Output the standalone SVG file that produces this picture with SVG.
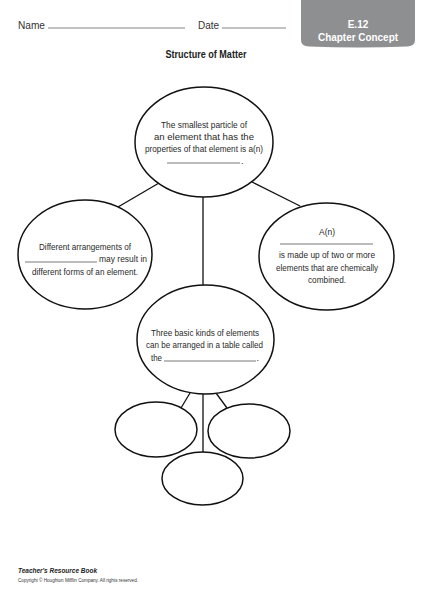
<svg xmlns="http://www.w3.org/2000/svg" width="431" height="600" viewBox="0 0 431 600">
<style>
.n{fill:#fff;stroke:#111;stroke-width:1.5}
.c line{stroke:#111;stroke-width:1.3}
.t{font-family:"Liberation Sans",Arial,sans-serif;font-size:9px;fill:#2a2a2a}
.bl{stroke:#555;stroke-width:0.8}
.h{font-family:"Liberation Sans",Arial,sans-serif;font-size:10px;fill:#333}
.hl{stroke:#666;stroke-width:0.8}
</style>
<rect width="431" height="600" fill="#fff"/>
<g id="header">
<path d="M301 0 H415 V40 Q415 46 407 46.5 Q358 48.5 309 46.5 Q301 46 301 40 Z" fill="#8e8f91"/>
<text x="358" y="28" text-anchor="middle" style="font-family:'Liberation Sans',Arial,sans-serif;font-size:10px;font-weight:bold;fill:#fff">E.12</text>
<text x="358" y="41" text-anchor="middle" textLength="80" lengthAdjust="spacingAndGlyphs" style="font-family:'Liberation Sans',Arial,sans-serif;font-size:10px;font-weight:bold;fill:#fff">Chapter Concept</text>
<text class="h" x="18" y="29" textLength="27" lengthAdjust="spacingAndGlyphs">Name</text>
<line class="hl" x1="48" y1="28" x2="185" y2="28"/>
<text class="h" x="198" y="29" textLength="21" lengthAdjust="spacingAndGlyphs">Date</text>
<line class="hl" x1="222" y1="28" x2="286" y2="28"/>
<text x="206" y="58" text-anchor="middle" textLength="81" lengthAdjust="spacingAndGlyphs" style="font-family:'Liberation Sans',Arial,sans-serif;font-size:10px;font-weight:bold;fill:#222">Structure of Matter</text>
</g>
<g id="connectors" class="c">
<line x1="118" y1="207" x2="159" y2="183"/>
<line x1="252" y1="182" x2="300" y2="206"/>
<line x1="203" y1="196" x2="203" y2="286"/>
<line x1="190" y1="393" x2="181" y2="408"/>
<line x1="203" y1="394" x2="203" y2="452"/>
<line x1="216" y1="393" x2="227" y2="408"/>
</g>
<g id="atom">
<ellipse class="n" cx="204" cy="142" rx="69" ry="55"/>
<text class="t" x="204" y="128" text-anchor="middle" textLength="86" lengthAdjust="spacingAndGlyphs">The smallest particle of</text>
<text class="t" x="204" y="140" text-anchor="middle" textLength="100" lengthAdjust="spacingAndGlyphs">an element that has the</text>
<text class="t" x="204" y="152" text-anchor="middle" textLength="118" lengthAdjust="spacingAndGlyphs">properties of that element is a(n)</text>
<line class="bl" x1="167" y1="163" x2="240" y2="163"/>
<text class="t" x="241" y="164">.</text>
</g>
<g id="allotropes">
<ellipse class="n" cx="85" cy="254.5" rx="67" ry="54.5"/>
<text class="t" x="39" y="250" textLength="92" lengthAdjust="spacingAndGlyphs">Different arrangements of</text>
<line class="bl" x1="25" y1="262" x2="97" y2="262"/>
<text class="t" x="99" y="262" textLength="48" lengthAdjust="spacingAndGlyphs">may result in</text>
<text class="t" x="32" y="275" textLength="106" lengthAdjust="spacingAndGlyphs">different forms of an element.</text>
</g>
<g id="compound">
<ellipse class="n" cx="326.5" cy="256.5" rx="67.5" ry="53.5"/>
<text class="t" x="327" y="235" text-anchor="middle" textLength="16" lengthAdjust="spacingAndGlyphs">A(n)</text>
<line class="bl" x1="280" y1="244" x2="373" y2="244"/>
<text class="t" x="327" y="258" text-anchor="middle" textLength="96" lengthAdjust="spacingAndGlyphs">is made up of two or more</text>
<text class="t" x="327" y="271" text-anchor="middle" textLength="102" lengthAdjust="spacingAndGlyphs">elements that are chemically</text>
<text class="t" x="327" y="283" text-anchor="middle" textLength="38" lengthAdjust="spacingAndGlyphs">combined.</text>
</g>
<g id="periodic">
<ellipse class="n" cx="205.5" cy="339.5" rx="68.5" ry="54.5"/>
<text class="t" x="151" y="336" textLength="108" lengthAdjust="spacingAndGlyphs">Three basic kinds of elements</text>
<text class="t" x="146" y="348" textLength="117" lengthAdjust="spacingAndGlyphs">can be arranged in a table called</text>
<text class="t" x="151" y="361" textLength="11" lengthAdjust="spacingAndGlyphs">the</text>
<line class="bl" x1="164" y1="361" x2="256" y2="361"/>
<text class="t" x="256.5" y="361">.</text>
</g>
<g id="kind1"><ellipse class="n" cx="156" cy="429.5" rx="41" ry="27.5"/></g>
<g id="kind2"><ellipse class="n" cx="249" cy="431" rx="41" ry="27"/></g>
<g id="kind3"><ellipse class="n" cx="202.5" cy="478.5" rx="40.5" ry="26.5"/></g>
<g id="footer">
<text x="18" y="573" textLength="79" lengthAdjust="spacingAndGlyphs" style="font-family:'Liberation Sans',Arial,sans-serif;font-size:7.5px;font-weight:bold;font-style:italic;fill:#222">Teacher's Resource Book</text>
<text x="18" y="582" textLength="120" lengthAdjust="spacingAndGlyphs" style="font-family:'Liberation Sans',Arial,sans-serif;font-size:4.5px;fill:#333">Copyright © Houghton Mifflin Company. All rights reserved.</text>
</g>
</svg>
